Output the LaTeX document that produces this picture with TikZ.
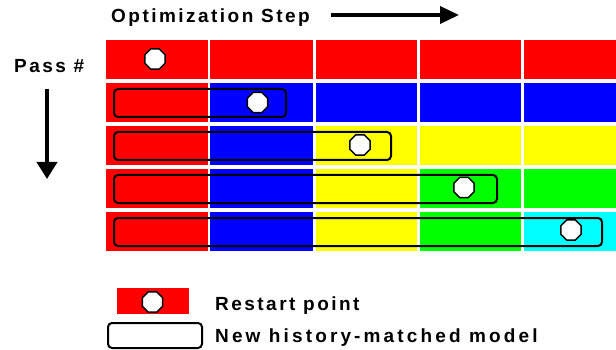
\documentclass[tikz,border=0pt]{standalone}
\usepackage{fontspec}
\newfontfamily\lblfont{Liberation Sans}[LetterSpace=13]
\newfontfamily\widelblfont{Liberation Sans}[LetterSpace=16.5]
\usetikzlibrary{arrows.meta,shapes.geometric}
\definecolor{stepA}{RGB}{255,0,0}
\definecolor{stepB}{RGB}{0,0,255}
\definecolor{stepC}{RGB}{255,255,0}
\definecolor{stepD}{RGB}{0,255,0}
\definecolor{stepE}{RGB}{0,255,255}
\begin{document}
\begin{tikzpicture}[x=1pt,y=-1pt,
  cell/.style={draw=none, minimum height=39pt, inner sep=0pt, outer sep=0pt, anchor=north west},
  restart/.style={regular polygon, regular polygon sides=8, draw=black, fill=white,
    line width=1.4pt, minimum size=22pt, inner sep=0pt},
  model/.style={draw=black, line width=2pt, rounded corners=4pt, minimum height=28pt,
    inner sep=0pt, anchor=north west},
  label/.style={font=\lblfont\bfseries\fontsize{19}{22}\selectfont, inner sep=0pt, anchor=base west},
  bigarrow/.style={line width=3.5pt, -{Triangle[length=19pt,width=17pt]}}
]
\useasboundingbox (0,0) rectangle (616,350);

% colour grid: pass r, step c takes the colour of step min(r,c)
\foreach \r/\top in {1/40,2/83,3/126,4/169,5/212}{
  \foreach \c/\lft/\w in {1/106/101.5,2/210/102.5,3/315.5/101.5,4/419.5/101.5,5/524/92}{
    \pgfmathtruncatemacro\k{min(\r,\c)}
    \ifcase\k\or\def\cc{stepA}\or\def\cc{stepB}\or\def\cc{stepC}\or\def\cc{stepD}\or\def\cc{stepE}\fi
    \node[cell, fill=\cc, minimum width=\w pt] (cell-\r-\c) at (\lft,\top) {};
  }
}

% history-matched models
\node[model, minimum width=172pt] (model-2) at (113,88) {};
\node[model, minimum width=277pt] (model-3) at (113,131) {};
\node[model, minimum width=383pt] (model-4) at (113,174) {};
\node[model, minimum width=488pt] (model-5) at (113,217) {};

% restart points
\node[restart] (rp-1) at (155,59) {};
\node[restart] (rp-2) at (257.5,102.5) {};
\node[restart] (rp-3) at (360,145) {};
\node[restart] (rp-4) at (464,187.5) {};
\node[restart] (rp-5) at (571,230) {};

% axes
\node[label] (opt-label) at (111,23) {Optimization Step};
\coordinate (opt-a) at (331,15);
\coordinate (opt-b) at (459,15);
\draw[bigarrow] (opt-a) -- (opt-b);

\node[label] (pass-label) at (14,73) {Pass \#};
\coordinate (pass-a) at (47,89);
\coordinate (pass-b) at (47,179);
\draw[line width=4pt, -{Triangle[length=17pt,width=20pt]}] (pass-a) -- (pass-b);

% legend
\node[cell, fill=stepA, minimum width=72pt, minimum height=26pt] (leg-cell) at (117,288) {};
\node[restart] (leg-rp) at (152.5,302) {};
\node[label] (leg-rp-text) at (215,310) {Restart point};
\node[model, minimum width=94pt, minimum height=25pt] (leg-model) at (107,322) {};
\node[label, font=\widelblfont\bfseries\fontsize{19}{22}\selectfont] (leg-model-text) at (215,342) {New history-matched model};
\end{tikzpicture}
\end{document}
